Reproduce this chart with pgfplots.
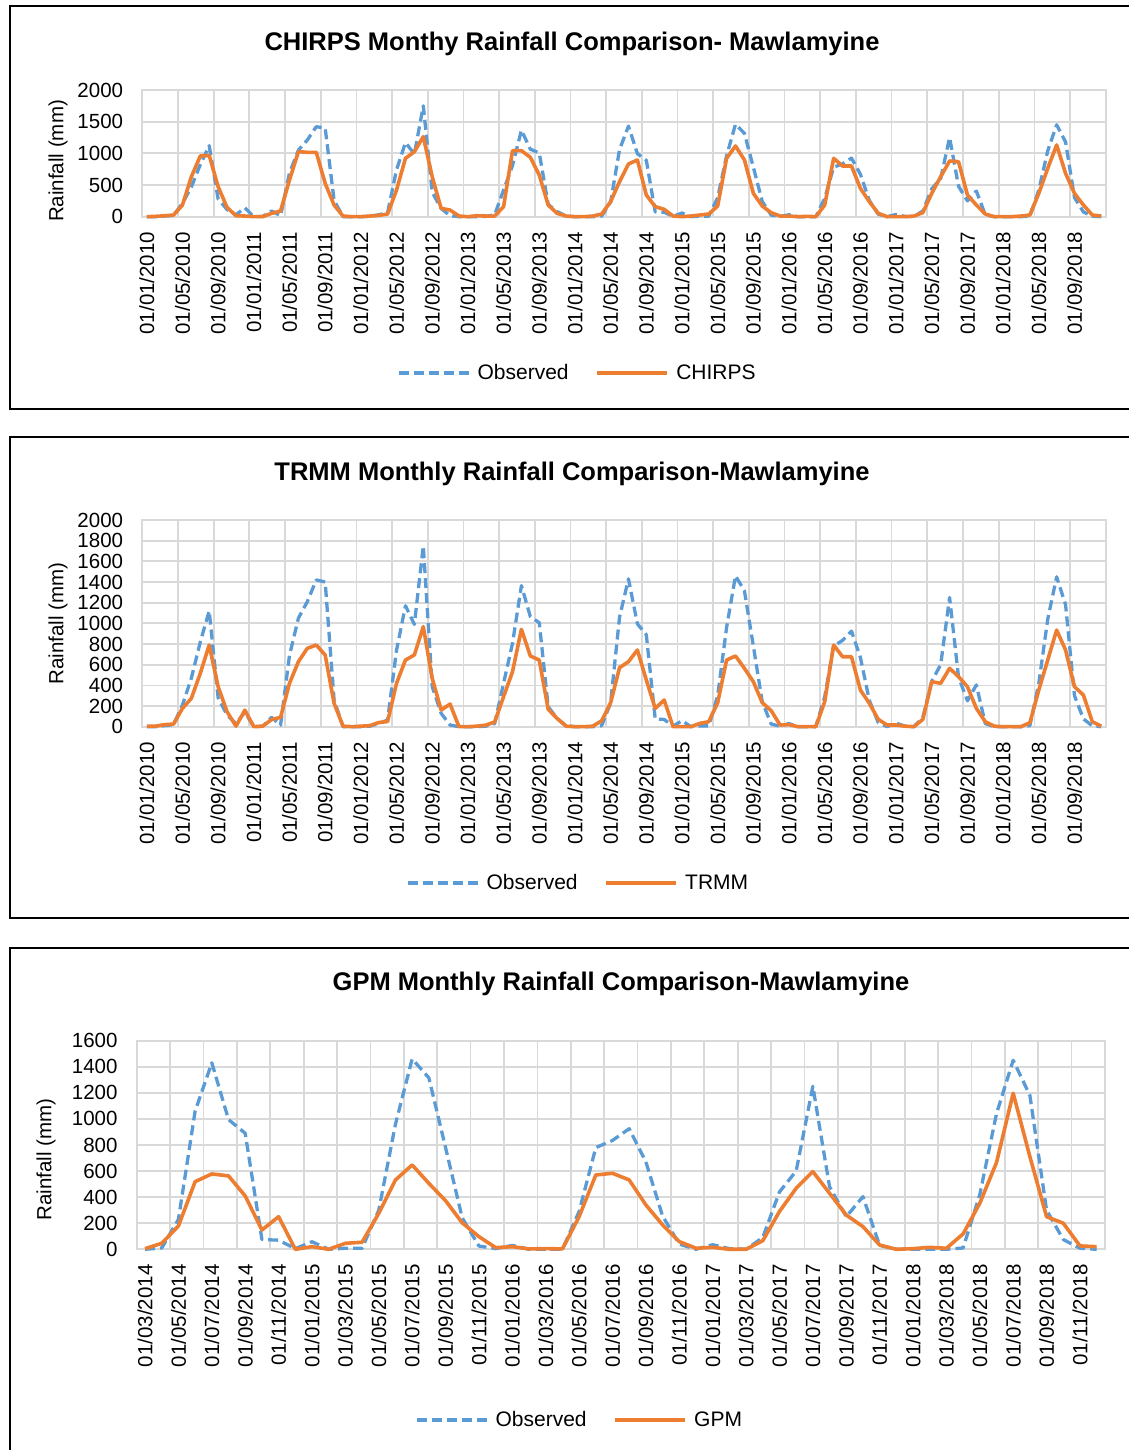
\documentclass[border=0pt]{standalone}
\usepackage{fontspec}
\setmainfont{Liberation Sans}
\usepackage{pgfplots}
\usepackage{pgfplotstable}
\pgfplotsset{compat=1.18}
\definecolor{obsblue}{HTML}{5B9BD5}
\definecolor{satorange}{HTML}{ED7D31}
\definecolor{gridgray}{HTML}{D9D9D9}

\pgfplotstableread{
m obs chirps trmm
0 0 0 5
1 0 5 5
2 10 15 20
3 20 25 25
4 210 184 177
5 470 630 274
6 820 958 516
7 1120 968 790
8 280 474 387
9 113 147 145
10 30 15 5
11 140 10 160
12 0 0 0
13 5 0 5
14 90 53 70
15 15 90 90
16 690 579 420
17 1050 1026 629
18 1210 1016 758
19 1420 1016 790
20 1400 526 694
21 258 184 226
22 0 10 5
23 0 0 0
24 0 0 5
25 5 10 10
26 30 20 40
27 65 42 50
28 740 421 420
29 1170 921 645
30 990 1026 694
31 1750 1263 968
32 387 630 468
33 129 131 161
34 16 105 219
35 0 10 0
36 0 0 0
37 0 15 5
38 5 10 15
39 30 10 45
40 420 158 290
41 806 1042 532
42 1365 1042 942
43 1065 937 684
44 1006 658 645
45 194 184 168
46 80 53 80
47 10 10 5
48 0 0 0
49 0 0 0
50 0 10 5
51 10 42 58
52 230 237 232
53 1060 553 571
54 1430 832 629
55 995 895 742
56 890 342 452
57 75 158 177
58 70 116 258
59 5 10 0
60 58 0 0
61 0 10 0
62 8 26 32
63 8 42 48
64 300 168 232
65 960 921 645
66 1460 1116 684
67 1315 895 565
68 780 368 435
69 240 168 232
70 25 63 155
71 5 10 16
72 30 10 20
73 0 0 0
74 0 5 0
75 0 0 0
76 290 184 242
77 780 921 790
78 835 800 677
79 925 800 677
80 670 447 355
81 255 237 226
82 40 53 71
83 0 0 16
84 35 0 16
85 5 0 5
86 0 10 0
87 90 63 71
88 440 368 435
89 600 632 420
90 1250 879 565
91 480 868 484
92 250 342 387
93 404 184 177
94 30 42 48
95 0 0 5
96 0 0 0
97 0 0 0
98 0 10 0
99 10 26 39
100 420 368 355
101 1040 763 645
102 1450 1132 935
103 1180 684 742
104 300 368 387
105 75 184 306
106 8 26 48
107 0 10 5
}\maindata

\pgfplotstableread{
g obs gpm
0 0 5
1 10 46
2 230 179
3 1060 519
4 1430 578
5 995 563
6 890 409
7 75 148
8 70 250
9 5 0
10 58 20
11 0 0
12 8 46
13 8 54
14 300 276
15 960 532
16 1460 647
17 1315 506
18 780 373
19 240 203
20 25 97
21 5 13
22 30 20
23 0 3
24 0 5
25 0 3
26 290 250
27 780 570
28 835 583
29 925 532
30 670 340
31 255 187
32 40 59
33 0 8
34 35 15
35 5 0
36 0 0
37 90 66
38 440 290
39 600 468
40 1250 596
41 480 430
42 250 263
43 404 174
44 30 33
45 0 0
46 0 5
47 0 15
48 0 8
49 10 118
50 420 353
51 1040 665
52 1450 1197
53 1180 711
54 300 250
55 75 200
56 8 26
57 0 20
}\gpmdata

\pgfplotsset{
  rainstyle/.style={
    scale only axis, anchor=south west, clip=false,
    ymin=0,
    axis line style={draw=gridgray, line width=1.7pt},
    ymajorgrids=true, xminorgrids=true, xmajorgrids=false,
    grid style={draw=gridgray, line width=1.7pt},
    minor grid style={draw=gridgray, line width=1.7pt},
    major tick length=0pt, minor tick length=0pt,
    /pgf/number format/assume math mode=true,
    /pgf/number format/1000 sep={},
    ticklabel style={font=\fontsize{20.5}{24}\selectfont, inner sep=0pt},
    xticklabel style={rotate=90, anchor=east},
    xticklabel shift=15pt,
    yticklabel shift=19pt,
    ylabel={Rainfall (mm)},
    ylabel style={font=\fontsize{20.5}{24}\selectfont, anchor=center, inner sep=0pt},
    legend columns=2,
    legend style={draw=none, fill=none, inner sep=0pt, anchor=west,
      font=\fontsize{21}{24}\selectfont, nodes={inner sep=0pt},
      /tikz/every odd column/.append style={column sep=7pt},
      /tikz/every even column/.append style={column sep=27pt}},
    legend image code/.code={\draw[##1] (0pt,0pt) -- (70pt,0pt);},
  },
  obsline/.style={obsblue, line width=3.3pt, dash pattern=on 10pt off 5pt, line join=round},
  satline/.style={satorange, line width=3.6pt, line join=round},
}

\begin{document}
\begin{tikzpicture}
\path[use as bounding box] (0pt,0pt) rectangle (1128pt,1450pt);

% frames
\draw[line width=1.8pt] (10pt,1444pt) rectangle (1140pt,1041pt);
\draw[line width=1.8pt] (10pt,1013pt) rectangle (1140pt,532pt);
\draw[line width=1.8pt] (10pt,502pt) rectangle (1140pt,-10pt);

% titles
\node[font=\bfseries\fontsize{25.5}{30}\selectfont] at (572pt,1406pt) {CHIRPS Monthy Rainfall Comparison- Mawlamyine};
\node[font=\bfseries\fontsize{25.5}{30}\selectfont] at (572pt,976pt) {TRMM Monthly Rainfall Comparison-Mawlamyine};
\node[font=\bfseries\fontsize{25.5}{30}\selectfont] at (621pt,466pt) {GPM Monthly Rainfall Comparison-Mawlamyine};

% Panel 1: CHIRPS
\begin{axis}[rainstyle,
  at={(142.3pt,1233.3pt)}, width=963.4pt, height=126.7pt,
  xmin=-0.5, xmax=107.5, ymax=2000,
  ytick={0,500,1000,1500,2000},
  xtick={0,4,...,104},
  minor xtick={-0.5,3.5,...,107.5},
  xticklabels={01/01/2010,01/05/2010,01/09/2010,01/01/2011,01/05/2011,01/09/2011,01/01/2012,01/05/2012,01/09/2012,01/01/2013,01/05/2013,01/09/2013,01/01/2014,01/05/2014,01/09/2014,01/01/2015,01/05/2015,01/09/2015,01/01/2016,01/05/2016,01/09/2016,01/01/2017,01/05/2017,01/09/2017,01/01/2018,01/05/2018,01/09/2018},
  ylabel style={at={(axis description cs:-0.0875,0.44)}},
  legend style={at={(axis description cs:0.2645,-1.2336)}},
]
\addplot[obsline] table[x=m,y=obs]{\maindata};
\addlegendentry{Observed}
\addplot[satline] table[x=m,y=chirps]{\maindata};
\addlegendentry{CHIRPS}
\end{axis}

% Panel 2: TRMM
\begin{axis}[rainstyle,
  at={(142.3pt,723.3pt)}, width=963.4pt, height=206.7pt,
  xmin=-0.5, xmax=107.5, ymax=2000,
  ytick={0,200,...,2000},
  xtick={0,4,...,104},
  minor xtick={-0.5,3.5,...,107.5},
  xticklabels={01/01/2010,01/05/2010,01/09/2010,01/01/2011,01/05/2011,01/09/2011,01/01/2012,01/05/2012,01/09/2012,01/01/2013,01/05/2013,01/09/2013,01/01/2014,01/05/2014,01/09/2014,01/01/2015,01/05/2015,01/09/2015,01/01/2016,01/05/2016,01/09/2016,01/01/2017,01/05/2017,01/09/2017,01/01/2018,01/05/2018,01/09/2018},
  ylabel style={at={(axis description cs:-0.0875,0.5)}},
  legend style={at={(axis description cs:0.2738,-0.756)}},
]
\addplot[obsline] table[x=m,y=obs]{\maindata};
\addlegendentry{Observed}
\addplot[satline] table[x=m,y=trmm]{\maindata};
\addlegendentry{TRMM}
\end{axis}

% Panel 3: GPM
\begin{axis}[rainstyle,
  at={(136.7pt,200.7pt)}, width=968.3pt, height=208.6pt,
  xmin=-0.5, xmax=57.5, ymax=1600,
  ytick={0,200,...,1600},
  xtick={0,2,...,56},
  minor xtick={-0.5,1.5,...,57.5},
  xticklabels={01/03/2014,01/05/2014,01/07/2014,01/09/2014,01/11/2014,01/01/2015,01/03/2015,01/05/2015,01/07/2015,01/09/2015,01/11/2015,01/01/2016,01/03/2016,01/05/2016,01/07/2016,01/09/2016,01/11/2016,01/01/2017,01/03/2017,01/05/2017,01/07/2017,01/09/2017,01/11/2017,01/01/2018,01/03/2018,01/05/2018,01/07/2018,01/09/2018,01/11/2018},
  ylabel style={at={(axis description cs:-0.0937,0.43)}},
  legend style={at={(axis description cs:0.2875,-0.818)}},
]
\addplot[obsline] table[x=g,y=obs]{\gpmdata};
\addlegendentry{Observed}
\addplot[satline] table[x=g,y=gpm]{\gpmdata};
\addlegendentry{GPM}
\end{axis}
\end{tikzpicture}
\end{document}
